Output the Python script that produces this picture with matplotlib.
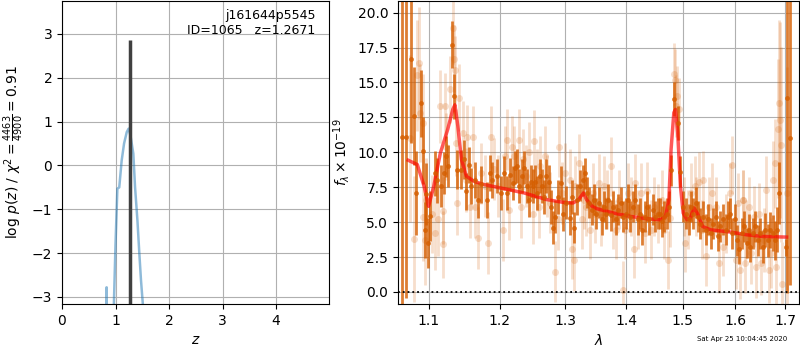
import numpy as np
import matplotlib
matplotlib.use("Agg")
import matplotlib.pyplot as plt
from matplotlib.ticker import NullLocator, FixedLocator, FixedFormatter

# ---------------- data ----------------
zbest = 1.2671
pz_z = [0.80, 0.832, 0.835, 0.842, 0.95, 0.97, 1.00, 1.035, 1.07, 1.115, 1.16, 1.21,
        1.245, 1.28, 1.333, 1.365, 1.41, 1.445, 1.477, 1.51, 1.56]
pz_logp = [-9.0, -2.78, -2.78, -9.0, -9.0, -3.15, -1.80, -0.53, -0.50, 0.11, 0.50, 0.76,
           0.84, 0.68, 0.27, -0.49, -1.26, -2.00, -2.63, -3.15, -5.0]
zline_top = 2.85

# binned (dark) spectrum
dark_lam = [1.0645, 1.070, 1.077, 1.080, 1.083, 1.090, 1.092, 1.095, 1.096, 1.099,
            1.102, 1.108, 1.112, 1.117, 1.121, 1.124, 1.126, 1.132, 1.134, 1.139,
            1.144, 1.149, 1.152, 1.156, 1.159, 1.164, 1.168, 1.173,
            1.181, 1.186, 1.189, 1.196, 1.201, 1.206, 1.210, 1.215, 1.219, 1.223,
            1.226, 1.229, 1.233, 1.236, 1.240, 1.243, 1.246, 1.250, 1.253, 1.256,
            1.260, 1.264, 1.266, 1.270, 1.274, 1.278, 1.280, 1.284, 1.288, 1.293,
            1.296, 1.301, 1.308, 1.311,
            1.313, 1.319, 1.324, 1.328, 1.331, 1.334, 1.338, 1.343, 1.346, 1.350,
            1.355, 1.359, 1.363, 1.366, 1.370, 1.374, 1.378, 1.382, 1.387, 1.391,
            1.394, 1.399, 1.403, 1.407, 1.411, 1.415, 1.420, 1.424, 1.427, 1.432,
            1.436, 1.440, 1.446, 1.451, 1.455,
            1.459, 1.463, 1.467, 1.472, 1.476, 1.479, 1.485, 1.491, 1.495, 1.501,
            1.506, 1.511, 1.516, 1.519, 1.524, 1.528, 1.533, 1.538, 1.543, 1.547,
            1.552, 1.557, 1.562, 1.566, 1.570, 1.575, 1.581, 1.585, 1.589, 1.594,
            1.599, 1.603, 1.607, 1.612, 1.617, 1.622,
            1.626, 1.629, 1.635, 1.639, 1.644, 1.649, 1.655, 1.659, 1.664, 1.669,
            1.674, 1.679, 1.684, 1.688, 1.702, 1.703, 1.711]
dark_flux = [11.1, 11.1, 16.7, 12.6, 7.1, 13.5, 10.1, 4.45, 7.0, 3.5,
             5.45, 8.5, 8.0, 7.6, 8.5, 9.7, 9.0, 17.7, 14.0, 8.75,
             8.75, 9.5, 7.2, 9.1, 7.6, 8.0, 6.6, 7.7,
             6.6, 8.5, 8.0, 8.3, 7.1, 8.5, 7.1, 8.4, 7.8, 8.9,
             9.0, 7.6, 8.3, 8.9, 7.6, 6.6, 7.9, 7.6, 7.9, 7.1,
             8.3, 7.6, 6.8, 8.3, 7.9, 6.1, 4.6, 5.4, 6.8, 7.8,
             5.6, 6.4, 5.3, 6.8,
             4.6, 6.6, 7.6, 8.0, 8.5, 7.1, 6.4, 5.9, 6.6, 5.6,
             6.4, 5.2, 6.1, 5.6, 6.6, 5.5, 6.1, 5.2, 5.9, 6.4,
             5.4, 5.6, 6.6, 5.4, 6.1, 6.6, 5.2, 5.6, 4.45, 5.4,
             6.1, 5.2, 5.9, 5.4, 5.6,
             5.6, 5.05, 5.4, 5.6, 6.1, 8.7, 13.8, 12.1, 8.6, 6.1,
             5.6, 5.2, 6.1, 5.6, 6.4, 5.4, 4.9, 5.4, 4.45, 5.2,
             4.2, 4.9, 5.4, 4.0, 4.7, 5.2, 4.45, 5.4, 5.6, 4.2,
             5.2, 3.7, 3.1, 4.2, 4.7, 3.5,
             4.45, 3.25, 4.2, 4.7, 3.7, 4.2, 3.25, 4.45, 3.7, 4.45,
             4.2, 3.7, 4.45, 7.1, 3.2, 13.9, 11.0]
dark_err = [12.0, 11.5, 6.0, 3.5, 3.0, 2.4, 2.4, 2.0, 2.2, 1.8,
            1.8, 1.6, 1.6, 1.5, 1.5, 1.5, 1.5, 1.7, 1.6, 1.4,
            1.4, 1.4, 1.3, 1.3, 1.3, 1.3, 1.3, 1.3,
            1.3, 1.3, 1.3, 1.2, 1.2, 1.2, 1.2, 1.2, 1.2, 1.2,
            1.2, 1.2, 1.2, 1.2, 1.2, 1.2, 1.2, 1.2, 1.2, 1.2,
            1.2, 1.2, 1.2, 1.2, 1.2, 1.2, 1.2, 1.2, 1.2, 1.2,
            1.2, 1.2, 1.2, 1.2,
            1.1, 1.1, 1.1, 1.1, 1.1, 1.1, 1.1, 1.1, 1.1, 1.1,
            1.1, 1.1, 1.1, 1.1, 1.1, 1.1, 1.1, 1.1, 1.1, 1.1,
            1.1, 1.1, 1.1, 1.1, 1.1, 1.1, 1.1, 1.1, 1.1, 1.1,
            1.1, 1.1, 1.1, 1.1, 1.1,
            1.1, 1.1, 1.1, 1.1, 1.1, 1.1, 1.2, 1.2, 1.1, 1.1,
            1.1, 1.1, 1.1, 1.1, 1.1, 1.1, 1.1, 1.1, 1.1, 1.1,
            1.1, 1.1, 1.1, 1.1, 1.1, 1.1, 1.1, 1.1, 1.1, 1.1,
            1.1, 1.1, 1.1, 1.1, 1.1, 1.1,
            1.1, 1.1, 1.1, 1.1, 1.1, 1.1, 1.2, 1.2, 1.2, 1.3,
            1.3, 1.4, 1.6, 2.2, 0.6, 14.0, 10.5]

# individual-beam (light) spectrum
light_lam = [1.075, 1.081, 1.085, 1.087, 1.089, 1.092, 1.092, 1.095, 1.097, 1.104,
             1.109, 1.113, 1.115, 1.119, 1.120, 1.122, 1.123, 1.129, 1.133, 1.134,
             1.136, 1.137, 1.142, 1.139, 1.147, 1.151, 1.153, 1.157, 1.161, 1.164,
             1.168, 1.173,
             1.178, 1.183, 1.187, 1.192, 1.198, 1.205, 1.208, 1.211, 1.214, 1.218,
             1.221, 1.229, 1.231, 1.235, 1.239, 1.243, 1.249, 1.251, 1.256, 1.259,
             1.261, 1.268, 1.271, 1.276, 1.284, 1.288, 1.290, 1.295, 1.299, 1.307,
             1.310,
             1.313, 1.316, 1.322, 1.326, 1.330, 1.333, 1.339, 1.344, 1.348, 1.354,
             1.357, 1.363, 1.368, 1.374, 1.378, 1.383, 1.388, 1.394, 1.398, 1.404,
             1.409, 1.414, 1.416, 1.421, 1.426, 1.432, 1.437, 1.443, 1.448, 1.455,
             1.462, 1.467, 1.473, 1.477, 1.485, 1.487, 1.488, 1.490, 1.493, 1.503,
             1.505, 1.509, 1.516, 1.522, 1.525, 1.530, 1.535, 1.538, 1.544, 1.550,
             1.555, 1.563, 1.569, 1.575, 1.582, 1.589, 1.594, 1.601, 1.604, 1.609,
             1.614, 1.621,
             1.615, 1.619, 1.626, 1.631, 1.636, 1.641, 1.646, 1.651, 1.656, 1.661,
             1.666, 1.670, 1.676, 1.679, 1.682, 1.686, 1.688, 1.690, 1.692, 1.693,
             1.703]
light_flux = [11.0, 3.8, 15.5, 16.4, 12.8, 12.1, 5.4, 3.7, 6.6, 5.6,
              4.2, 5.2, 13.3, 3.4, 5.8, 13.3, 10.4, 14.5, 18.9, 16.7,
              15.9, 10.7, 13.9, 6.4, 11.4, 8.0, 11.1, 6.1, 11.1, 6.1,
              3.85, 8.5,
              7.6, 3.5, 11.1, 8.8, 7.6, 4.45, 9.7, 10.9, 5.9, 10.4,
              9.7, 10.9, 6.1, 9.5, 8.3, 10.0, 5.6, 10.8, 8.0, 6.1,
              9.0, 9.7, 7.6, 6.4, 1.45, 5.2, 10.4, 7.1, 8.5, 8.0,
              3.1,
              2.3, 7.6, 9.2, 5.2, 6.6, 6.1, 4.45, 7.1, 5.6, 7.8,
              5.4, 7.6, 6.6, 9.0, 5.2, 4.45, 6.6, 0.15, 4.45, 7.1,
              6.1, 3.1, 7.8, 5.2, 7.1, 4.2, 7.2, 4.45, 6.1, 5.6,
              6.6, 4.45, 2.3, 5.3, 15.6, 15.2, 13.3, 14.0, 13.1, 6.1,
              3.5, 5.2, 7.1, 7.6, 6.1, 7.9, 4.45, 8.0, 2.55, 6.1,
              7.1, 6.1, 2.05, 3.25, 4.9, 7.1, 9.1, 2.3, 6.4, 1.6,
              6.6, 4.45,
              6.6, 2.05, 6.1, 2.8, 5.4, 1.8, 5.6, 2.05, 3.7, 7.3,
              1.6, 2.8, 8.0, 9.2, 1.8, 11.7, 13.5, 12.3, 10.55, 0.6,
              7.1]
light_err = [6.0, 4.5, 4.0, 4.0, 3.5, 3.5, 3.2, 3.2, 3.0, 2.8,
             2.6, 2.6, 2.6, 2.4, 2.4, 2.4, 2.4, 2.4, 2.6, 2.4,
             2.4, 2.4, 2.4, 2.3, 2.3, 2.3, 2.3, 2.2, 2.2, 2.2,
             2.2, 2.2,
             2.2, 2.2, 2.2, 2.2, 2.2, 2.2, 2.2, 2.2, 2.2, 2.2,
             2.2, 2.2, 2.2, 2.2, 2.2, 2.2, 2.2, 2.2, 2.2, 2.2,
             2.2, 2.2, 2.2, 2.2, 2.2, 2.2, 2.2, 2.2, 2.2, 2.2,
             2.2,
             2.2, 2.1, 2.1, 2.1, 2.1, 2.1, 2.1, 2.1, 2.1, 2.1,
             2.1, 2.1, 2.1, 2.1, 2.1, 2.1, 2.1, 2.1, 2.1, 2.1,
             2.1, 2.1, 2.1, 2.1, 2.1, 2.1, 2.1, 2.1, 2.1, 2.1,
             2.1, 2.1, 2.1, 2.1, 2.2, 2.2, 2.2, 2.2, 2.2, 2.1,
             2.1, 2.1, 2.1, 2.1, 2.1, 2.1, 2.1, 2.1, 2.1, 2.1,
             2.1, 2.1, 2.1, 2.1, 2.1, 2.1, 2.1, 2.1, 2.1, 2.1,
             2.1, 2.1,
             2.1, 2.1, 2.1, 2.2, 2.2, 2.2, 2.2, 2.3, 2.3, 2.4,
             2.4, 2.5, 2.8, 3.2, 3.2, 5.0, 6.0, 7.0, 7.0, 3.0,
             9.0]

model_lam = [1.073, 1.085, 1.094, 1.100, 1.107, 1.116, 1.126, 1.133, 1.136, 1.140,
             1.145, 1.152, 1.163, 1.177, 1.201, 1.236, 1.271, 1.296, 1.312, 1.321,
             1.329, 1.334, 1.343, 1.351, 1.379, 1.407, 1.437, 1.460, 1.469, 1.475,
             1.479, 1.484, 1.487, 1.491, 1.496, 1.501, 1.508, 1.514, 1.521, 1.527,
             1.537, 1.552, 1.590, 1.623, 1.656, 1.703]
model_flux = [9.43, 9.12, 7.57, 6.13, 7.57, 9.96, 11.64, 13.07, 13.40, 11.87,
              9.48, 8.28, 7.92, 7.69, 7.45, 7.09, 6.61, 6.42, 6.37, 6.60,
              7.09, 6.61, 6.13, 5.96, 5.65, 5.41, 5.24, 5.17, 5.41, 6.61,
              10.2, 12.84, 13.07, 11.40, 7.57, 5.65, 5.17, 5.29, 6.01, 5.65,
              4.69, 4.45, 4.29, 4.09, 3.97, 3.93]

lam_ticks = [1.1, 1.2, 1.3, 1.4, 1.5, 1.6, 1.7]
flux_ticks = [0.0, 2.5, 5.0, 7.5, 10.0, 12.5, 15.0, 17.5, 20.0]
z_ticks = [0, 1, 2, 3, 4]
logp_ticks = [-3, -2, -1, 0, 1, 2, 3]

# ---------------- plot ----------------
G141 = (0.835, 0.369, 0.0)
fig = plt.figure(figsize=(8, 3.5), dpi=100)
W, H = 800.0, 350.0
ax1 = fig.add_axes([62 / W, 46 / H, 267 / W, 303 / H])
ax2 = fig.add_axes([398 / W, 46 / H, 401 / W, 303 / H])

ax1.plot(pz_z, pz_logp, color='C0', alpha=0.5, lw=1.8)
ax1.vlines(zbest, -10, zline_top, color='0.25', lw=2.5)
ax1.set_xlim(0, 4.99)
ax1.set_ylim(-3.16, 3.75)
ax1.set_xticks(z_ticks)
ax1.set_yticks(logp_ticks)
ax1.grid(True)
ax1.set_axisbelow(True)
ax1.set_xlabel('$z$')
ax1.set_ylabel(r'$\log\,p(z)$ / $\chi^2=\frac{4463}{4900}=0.91$')
ax1.text(0.95, 0.975, 'j161644p5545\nID=1065   z=1.2671', transform=ax1.transAxes,
         ha='right', va='top', fontsize=9)

ax2.errorbar(light_lam, light_flux, yerr=light_err, fmt='o', color=G141, alpha=0.2,
             ms=5, elinewidth=2, capsize=0, mec='none')
ax2.errorbar(dark_lam, dark_flux, yerr=dark_err, fmt='o', color=G141, alpha=0.8,
             ms=3.5, elinewidth=2, capsize=0, mec='none')
ax2.plot(model_lam, model_flux, color='red', alpha=0.65, lw=2.5)
ax2.axhline(0, color='k', ls=':', lw=1.3)
ax2.set_xscale('log')
ax2.set_xlim(1.0597, 1.729)
ax2.set_ylim(-0.86, 20.83)
ax2.xaxis.set_major_locator(FixedLocator(lam_ticks))
ax2.xaxis.set_major_formatter(FixedFormatter([f'{t:.1f}' for t in lam_ticks]))
ax2.xaxis.set_minor_locator(NullLocator())
ax2.set_yticks(flux_ticks)
ax2.grid(True)
ax2.set_axisbelow(True)
ax2.set_xlabel(r'$\lambda$')
ax2.set_ylabel(r'$f_\lambda \times 10^{-19}$', fontsize=10)
ax2.yaxis.set_label_coords(-0.115, 0.5)

fig.text(787 / W, 1 - 339 / H, 'Sat Apr 25 10:04:45 2020', ha='right', va='center',
         fontsize=5)

fig.savefig('out.png', dpi=100)
